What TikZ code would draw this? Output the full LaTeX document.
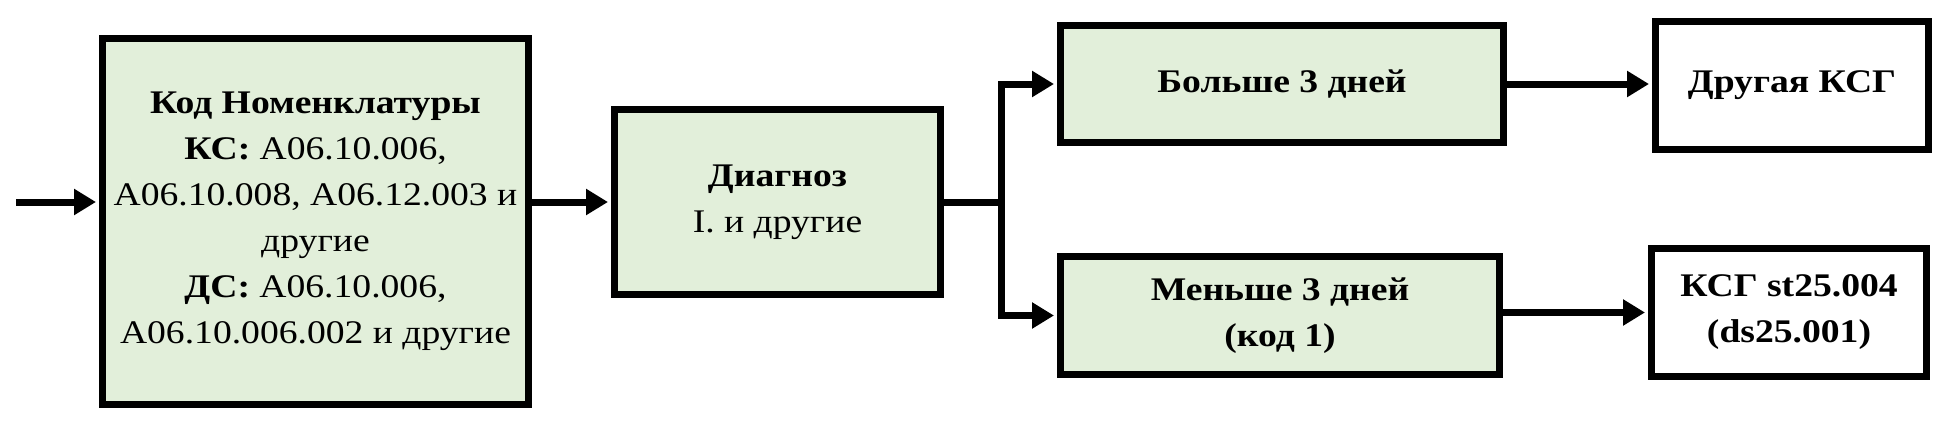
\documentclass[tikz,border=0pt]{standalone}
\usepackage{fontspec}
\setmainfont{Liberation Serif}[FakeStretch=1.14]
\usetikzlibrary{arrows.meta}
\definecolor{boxgreen}{HTML}{E2EFDA}
\begin{document}
\begin{tikzpicture}[x=1pt,y=-1pt,
  box/.style={draw=black, line width=7pt, align=center, inner sep=0pt,
    font=\fontsize{33}{46}\selectfont},
  gbox/.style={box, fill=boxgreen},
  wbox/.style={box, fill=white},
  conn/.style={line width=7pt, -{Triangle[length=22pt,width=25pt]}, shorten >=3pt},
  plainline/.style={line width=7pt}]
\useasboundingbox (0,0) rectangle (1947,431);

\node[gbox, minimum width=426pt, minimum height=366pt] (nom) at (315.5,221.5)
  {\textbf{Код Номенклатуры}\\\textbf{КС:} А06.10.006,\\А06.10.008, А06.12.003 и\\другие\\\textbf{ДС:} А06.10.006,\\А06.10.006.002 и другие};
\node[gbox, minimum width=326pt, minimum height=185pt] (diag) at (777.5,202)
  {\textbf{Диагноз}\\I. и другие};
\node[gbox, minimum width=443pt, minimum height=117pt] (more) at (1282,84)
  {\textbf{Больше 3 дней}};
\node[gbox, minimum width=439pt, minimum height=118pt] (less) at (1280,315.5)
  {\textbf{Меньше 3 дней}\\\textbf{(код 1)}};
\node[wbox, minimum width=273pt, minimum height=128pt] (other) at (1792,85.5)
  {\textbf{Другая КСГ}};
\node[wbox, minimum width=275pt, minimum height=128pt] (ksg) at (1789,312.5)
  {\textbf{КСГ st25.004}\\\textbf{(ds25.001)}};

\coordinate (start) at (16,202);
\coordinate (jn) at (1001,202);

\draw[conn] (start) -- (start -| nom.west);
\draw[conn] (nom.east |- diag.west) -- (diag.west);
\draw[plainline] (diag.east) -- (jn);
\draw[conn] (jn) |- (more.west);
\draw[conn] (jn) |- (less.west);
\draw[conn] (more.east) -- (more.east -| other.west);
\draw[conn] (less.east |- ksg.west) -- (ksg.west);
\end{tikzpicture}
\end{document}
